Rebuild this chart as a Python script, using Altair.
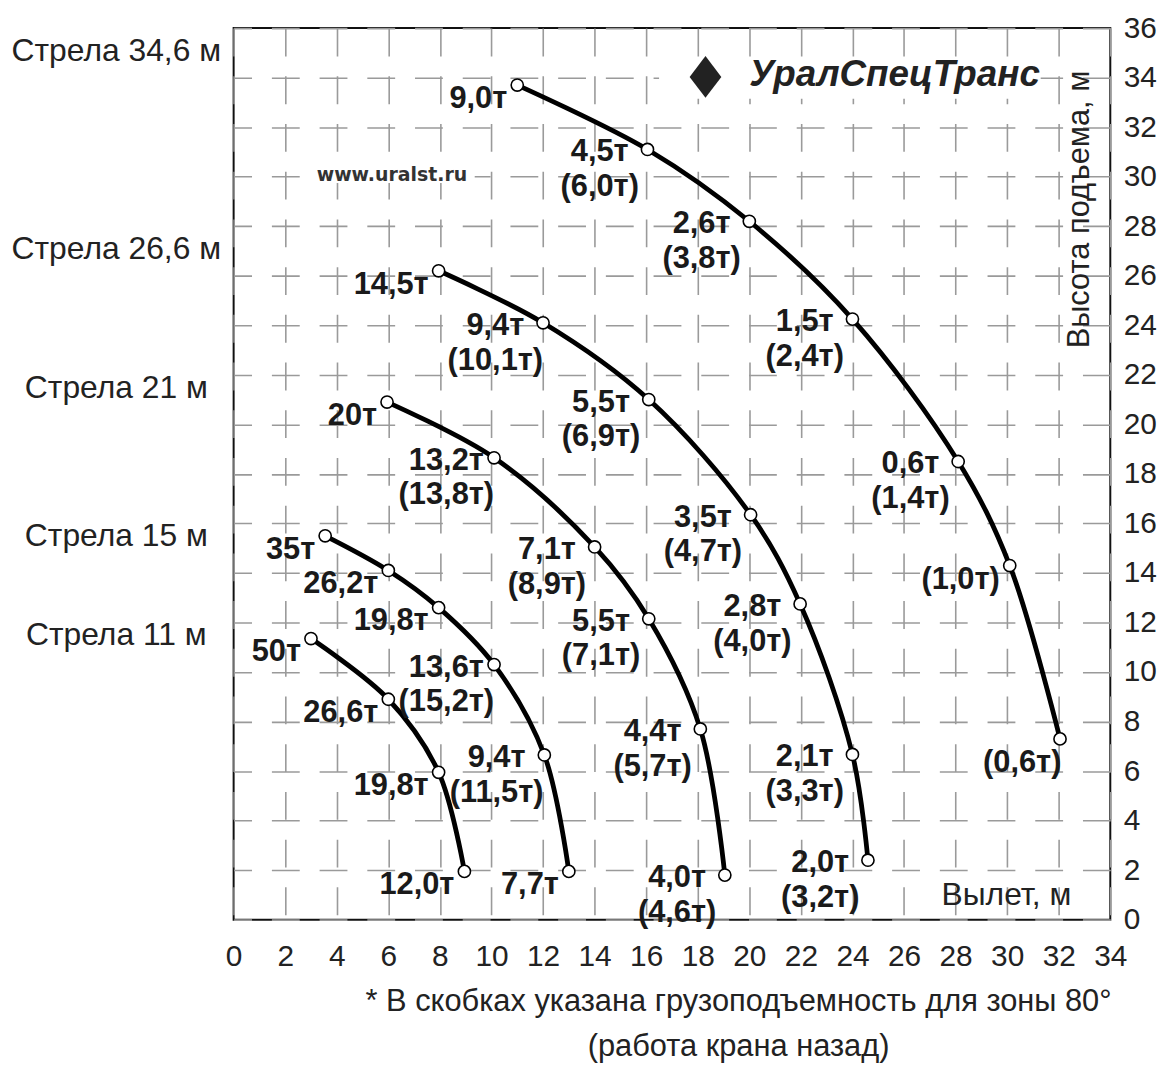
import altair as alt
import pandas as pd

FONT = "Liberation Sans"
INK = "#1a1a1a"

# ---- data -------------------------------------------------------------
boom_names = ["Стрела 34,6 м", "Стрела 26,6 м", "Стрела 21 м", "Стрела 15 м", "Стрела 11 м"]
boom_lengths = [34.6, 26.6, 21.0, 15.0, 11.0]

reach_346 = [11.0, 16.05, 20.0, 24.0, 28.1, 30.1, 32.05]
height_346 = [33.7, 31.1, 28.2, 24.25, 18.5, 14.3, 7.3]
load_346 = ["9,0т", "4,5т", "2,6т", "1,5т", "0,6т", "", ""]
back_346 = ["", "(6,0т)", "(3,8т)", "(2,4т)", "(1,4т)", "(1,0т)", "(0,6т)"]

reach_266 = [7.95, 12.0, 16.1, 20.05, 21.97, 24.0, 24.6]
height_266 = [26.2, 24.1, 21.0, 16.35, 12.75, 6.67, 2.4]
load_266 = ["14,5т", "9,4т", "5,5т", "3,5т", "2,8т", "2,1т", "2,0т"]
back_266 = ["", "(10,1т)", "(6,9т)", "(4,7т)", "(4,0т)", "(3,3т)", "(3,2т)"]

reach_21 = [5.95, 10.1, 14.0, 16.1, 18.1, 19.05]
height_21 = [20.9, 18.65, 15.05, 12.15, 7.7, 1.8]
load_21 = ["20т", "13,2т", "7,1т", "5,5т", "4,4т", "4,0т"]
back_21 = ["", "(13,8т)", "(8,9т)", "(7,1т)", "(5,7т)", "(4,6т)"]

reach_15 = [3.55, 6.0, 7.95, 10.1, 12.05, 13.0]
height_15 = [15.5, 14.1, 12.6, 10.3, 6.65, 1.95]
load_15 = ["35т", "26,2т", "19,8т", "13,6т", "9,4т", "7,7т"]
back_15 = ["", "", "", "(15,2т)", "(11,5т)", ""]

reach_11 = [3.0, 6.0, 7.95, 8.95]
height_11 = [11.35, 8.9, 5.95, 1.95]
load_11 = ["50т", "26,6т", "19,8т", "12,0т"]
back_11 = ["", "", "", ""]

x_ticks = list(range(0, 35, 2))
y_ticks = list(range(0, 37, 2))

footnote = ["* В скобках указана грузоподъемность для зоны 80°", "(работа крана назад)"]

# ---- tables -------------------------------------------------------------
series = [
    (boom_names[0], reach_346, height_346, load_346, back_346),
    (boom_names[1], reach_266, height_266, load_266, back_266),
    (boom_names[2], reach_21, height_21, load_21, back_21),
    (boom_names[3], reach_15, height_15, load_15, back_15),
    (boom_names[4], reach_11, height_11, load_11, back_11),
]
rows = []
for name, xs, ys, fr, bk in series:
    n = len(xs)
    for i in range(n):
        if fr[i] and bk[i]:
            kind = "double"
        elif fr[i]:
            kind = "single"
        elif i == n - 1:
            kind = "below"
        else:
            kind = "backleft"
        rows.append(dict(boom=name, order=i, x=xs[i], y=ys[i], front=fr[i], back=bk[i], kind=kind))
df = pd.DataFrame(rows)
booms_df = pd.DataFrame({"boom": boom_names, "y": boom_lengths})
dummy = pd.DataFrame({"a": [0]})

x_scale = alt.Scale(domain=[0, 34], nice=False, zero=False)
y_scale = alt.Scale(domain=[0, 36], nice=False, zero=False)

x_axis = alt.Axis(
    values=x_ticks, grid=True, gridDash=[28, 20], gridColor="#9a9a9a", gridWidth=1.6,
    domain=False, ticks=False, labelFontSize=30, labelPadding=22, labelColor="#222",
    labelFont=FONT, labelFlush=False,
    title="Вылет, м", titleX=777, titleY=-25, titleFontSize=32, titleFontWeight="normal",
    titleFont=FONT, titleAlign="center", titleBaseline="middle", titleColor="#222",
)
y_axis = alt.Axis(
    orient="right", values=y_ticks, grid=True, gridDash=[28, 20], gridColor="#9a9a9a",
    gridWidth=1.6, domain=False, ticks=False, labelFontSize=30, labelPadding=13,
    labelColor="#222", labelFont=FONT, labelFlush=False,
    title="Высота подъема, м", titleX=-31, titleY=182, titleAngle=270, titleFontSize=31,
    titleFontWeight="normal", titleFont=FONT, titleAlign="center", titleBaseline="middle",
    titleColor="#222",
)

X = alt.X("x:Q", scale=x_scale, axis=x_axis)
Y = alt.Y("y:Q", scale=y_scale, axis=y_axis)

base = alt.Chart(df)

# white patches behind the logo and url (hide the grid there)
bg_logo = alt.Chart(dummy).mark_rect(color="white").encode(
    x=alt.datum(16.5), x2=alt.datum(31.3), y=alt.datum(34.8), y2=alt.datum(33.15)
)
bg_url = alt.Chart(dummy).mark_rect(color="white").encode(
    x=alt.datum(3.0), x2=alt.datum(9.35), y=alt.datum(30.42), y2=alt.datum(29.75)
)

lines = base.mark_line(color="black", strokeWidth=4.8, interpolate="catmull-rom").encode(
    x=X, y=Y, detail="boom:N", order="order:Q"
)
points = base.mark_point(
    shape="circle", filled=True, fill="white", stroke="black", strokeWidth=1.6,
    size=150, opacity=1
).encode(x=X, y=Y)

txt = dict(font=FONT, fontSize=31, fontWeight="bold", color=INK, baseline="middle")
t_single = base.transform_filter(alt.datum.kind == "single").mark_text(
    align="right", dx=-10, dy=14, **txt).encode(x=X, y=Y, text="front:N")
t_dfront = base.transform_filter(alt.datum.kind == "double").mark_text(
    align="center", dx=-48, dy=3, **txt).encode(x=X, y=Y, text="front:N")
t_dback = base.transform_filter(alt.datum.kind == "double").mark_text(
    align="center", dx=-48, dy=38, **txt).encode(x=X, y=Y, text="back:N")
t_bleft = base.transform_filter(alt.datum.kind == "backleft").mark_text(
    align="right", dx=-10, dy=15, **txt).encode(x=X, y=Y, text="back:N")
t_below = base.transform_filter(alt.datum.kind == "below").mark_text(
    align="center", dx=-38, dy=24, **txt).encode(x=X, y=Y, text="back:N")

boom_lbl = alt.Chart(booms_df).mark_text(
    font=FONT, fontSize=32, color="#222", align="center", baseline="middle", dy=-12
).encode(x=alt.value(-118), y=alt.Y("y:Q", scale=y_scale), text="boom:N")

url = alt.Chart(dummy).mark_text(
    text="www.uralst.ru", font="DejaVu Sans", fontSize=19, fontWeight="bold", color="#333",
    align="center", baseline="middle"
).encode(x=alt.datum(6.14), y=alt.datum(30.08))

logo_txt = alt.Chart(dummy).mark_text(
    text="УралСпецТранс", font=FONT, fontSize=37, fontWeight="bold", fontStyle="italic",
    color="#222", align="left", baseline="middle"
).encode(x=alt.datum(20.0), y=alt.datum(34.1))
logo_dia = alt.Chart(dummy).mark_point(
    shape="M0,-1L0.76,0L0,1L-0.76,0Z", filled=True, color="#222", size=1764, opacity=1
).encode(x=alt.datum(18.3), y=alt.datum(34.03))

foot1 = alt.Chart(dummy).mark_text(
    text=footnote[0], font=FONT, fontSize=31, color="#222", align="center", baseline="middle"
).encode(x=alt.value(508), y=alt.value(980))
foot2 = alt.Chart(dummy).mark_text(
    text=footnote[1], font=FONT, fontSize=31, color="#222", align="center", baseline="middle"
).encode(x=alt.value(508), y=alt.value(1025))

chart = alt.layer(
    lines, bg_logo, bg_url, points, t_single, t_dfront, t_dback, t_bleft, t_below,
    boom_lbl, url, logo_txt, logo_dia, foot1, foot2
).properties(
    width=882, height=897,
    autosize=alt.AutoSizeParams(type="none"),
    padding={"left": 227, "top": 17, "right": 50, "bottom": 143},
).configure_view(stroke="#111", strokeWidth=2)

chart.save("out.html", embed_options={"renderer": "svg", "actions": False})
